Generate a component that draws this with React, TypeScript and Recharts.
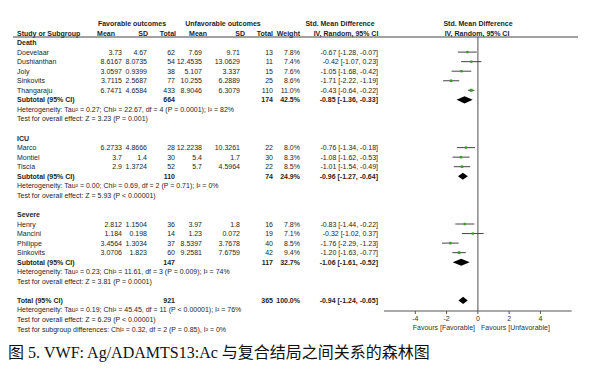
import React from 'react';
import { ScatterChart, Scatter, XAxis, YAxis, ErrorBar, ReferenceLine } from 'recharts';

// ---------- data ----------
const groupNames = ['Death', 'ICU', 'Severe'];
const studyGroup = [0, 0, 0, 0, 0, 1, 1, 1, 2, 2, 2, 2];
const studyNames = ['Doevelaar', 'Dushianthan', 'Joly', 'Sinkovits', 'Thangaraju', 'Marco', 'Montiel', 'Tiscia', 'Henry', 'Mancini', 'Philippe', 'Sinkovits'];
const favMean = [3.73, 8.6167, 3.0597, 3.7115, 6.7471, 6.2733, 3.7, 2.9, 2.812, 1.184, 3.4564, 3.0706];
const favSD = [4.67, 8.0735, 0.9399, 2.5687, 4.6584, 4.8666, 1.4, 1.3724, 1.1504, 0.198, 1.3034, 1.823];
const favN = [62, 54, 38, 77, 433, 28, 30, 52, 36, 14, 37, 60];
const unfMean = [7.69, 12.4535, 5.107, 10.255, 8.9046, 12.2238, 5.4, 5.7, 3.97, 1.23, 8.5397, 9.2581];
const unfSD = [9.71, 13.0629, 3.337, 6.2889, 6.3079, 10.3261, 1.7, 4.5964, 1.8, 0.072, 3.7678, 7.6759];
const unfN = [13, 11, 15, 25, 110, 22, 30, 22, 16, 19, 40, 42];
const weights = [7.8, 7.4, 7.6, 8.6, 11.0, 8.0, 8.3, 8.5, 7.8, 7.1, 8.5, 9.4];
const smd = [-0.67, -0.42, -1.05, -1.71, -0.43, -0.76, -1.08, -1.01, -0.83, -0.32, -1.76, -1.2];
const ciLow = [-1.28, -1.07, -1.68, -2.22, -0.64, -1.34, -1.62, -1.54, -1.44, -1.02, -2.29, -1.63];
const ciHigh = [-0.07, 0.23, -0.42, -1.19, -0.22, -0.18, -0.53, -0.49, -0.22, 0.37, -1.23, -0.77];

const subFavN = [664, 110, 147];
const subUnfN = [174, 74, 117];
const subWeight = [42.5, 24.9, 32.7];
const subSmd = [-0.85, -0.96, -1.06];
const subLow = [-1.36, -1.27, -1.61];
const subHigh = [-0.33, -0.64, -0.52];
const subHet = [
  'Heterogeneity: Tau² = 0.27; Chi² = 22.67, df = 4 (P = 0.0001); I² = 82%',
  'Heterogeneity: Tau² = 0.00; Chi² = 0.69, df = 2 (P = 0.71); I² = 0%',
  'Heterogeneity: Tau² = 0.23; Chi² = 11.61, df = 3 (P = 0.009); I² = 74%',
];
const subTest = [
  'Test for overall effect: Z = 3.23 (P = 0.001)',
  'Test for overall effect: Z = 5.93 (P < 0.00001)',
  'Test for overall effect: Z = 3.81 (P = 0.0001)',
];

const totalFavN = 921;
const totalUnfN = 365;
const totalWeight = 100.0;
const totalSmd = -0.94;
const totalLow = -1.24;
const totalHigh = -0.65;
const totalHet = 'Heterogeneity: Tau² = 0.19; Chi² = 45.45, df = 11 (P < 0.00001); I² = 76%';
const totalTest = 'Test for overall effect: Z = 6.29 (P < 0.00001)';
const subgroupTest = 'Test for subgroup differences: Chi² = 0.32, df = 2 (P = 0.85), I² = 0%';

const xTicks = [-4, -2, 0, 2, 4];
const xDomain: [number, number] = [-6, 6];
const caption = '图 5. VWF: Ag/ADAMTS13:Ac 与复合结局之间关系的森林图';

// ---------- layout ----------
const W = 600;
const H = 372;
const ROW0 = 33;
const STEP = 9.55;
const PLOT_TOP = 37;
const PLOT_BOTTOM = 311;
const PLOT_LEFT = 384;
const PLOT_RIGHT = 571.7;
const XAXIS_H = 20;
const DIAMOND_HALF = 0.37;
const rowY = (r: number) => ROW0 + STEP * r;
const yDomain: [number, number] = [(PLOT_TOP - ROW0) / STEP, (PLOT_BOTTOM - ROW0) / STEP];

const FONT = "'Liberation Sans', Arial, sans-serif";
const FS = 7;
const TXT = '#1e1e1e';

const COL = {
  name: 17,
  favMean: 122,
  favSD: 147,
  favN: 175,
  unfMean: 202,
  unfSD: 240,
  unfN: 273,
  weight: 300,
  ci: 378,
};

// row assignment
const groupRow: number[] = [];
const studyRow: number[] = [];
const subRow: number[] = [];
const hetRow: number[] = [];
const testRow: number[] = [];
let rr = 1;
groupNames.forEach((_, gi) => {
  groupRow[gi] = rr++;
  studyNames.forEach((__, si) => {
    if (studyGroup[si] === gi) studyRow[si] = rr++;
  });
  subRow[gi] = rr++;
  hetRow[gi] = rr++;
  testRow[gi] = rr++;
  rr++;
});
const totalRow = rr;

const fmtCI = (e: number, l: number, h: number) => `${e.toFixed(2)} [${l.toFixed(2)}, ${h.toFixed(2)}]`;

const studyData = studyNames.map((_, i) => ({
  x: smd[i],
  y: studyRow[i],
  err: [smd[i] - ciLow[i], ciHigh[i] - smd[i]],
  w: weights[i],
}));

const diamonds = [
  ...subSmd.map((e, gi) => ({ e, l: subLow[gi], h: subHigh[gi], r: subRow[gi] })),
  { e: totalSmd, l: totalLow, h: totalHigh, r: totalRow },
].map((d) => [
  { x: d.l, y: d.r },
  { x: d.e, y: d.r - DIAMOND_HALF },
  { x: d.h, y: d.r },
  { x: d.e, y: d.r + DIAMOND_HALF },
]);

const StudySquare = (props: any) => {
  const { cx, cy, payload } = props;
  const s = 1 + payload.w * 0.18;
  return <rect x={cx - s / 2} y={cy - s / 2} width={s} height={s} fill="#3a9a2a" />;
};

const renderDiamond = (props: any) => {
  const pts = (props.points || []).map((p: any) => `${p.x},${p.y}`).join(' ');
  return <polygon points={pts} fill="#000" stroke="none" />;
};

const T = ({ x, r, anchor = 'start', bold = false, children }: any) => (
  <text
    x={x}
    y={rowY(r)}
    textAnchor={anchor}
    dominantBaseline="central"
    fontWeight={bold ? 'bold' : 'normal'}
  >
    {children}
  </text>
);

export default function App() {
  return (
    <div style={{ position: 'absolute', left: 0, top: 0, width: W, height: H, background: '#fff' }}>
      <div style={{ position: 'absolute', left: 0, top: 0 }}>
        <ScatterChart
          width={W}
          height={H}
          margin={{ top: PLOT_TOP, right: W - PLOT_RIGHT, bottom: H - PLOT_BOTTOM - XAXIS_H, left: PLOT_LEFT }}
        >
          <XAxis
            type="number"
            dataKey="x"
            domain={xDomain}
            ticks={xTicks}
            interval={0}
            height={XAXIS_H}
            tickSize={3}
            axisLine={{ stroke: '#555', strokeWidth: 1 }}
            tickLine={{ stroke: '#555' }}
            tick={{ fontSize: FS, fill: '#333', fontFamily: FONT }}
          />
          <YAxis type="number" dataKey="y" domain={yDomain} reversed hide width={0} />
          <ReferenceLine x={0} stroke="#8a8a8a" strokeWidth={1.5} />
          <Scatter data={studyData} isAnimationActive={false} shape={StudySquare}>
            <ErrorBar dataKey="err" direction="x" width={0} stroke="#444" strokeWidth={1} />
          </Scatter>
          {diamonds.map((d, i) => (
            <Scatter
              key={i}
              data={d}
              isAnimationActive={false}
              line={renderDiamond}
              shape={() => <g />}
            />
          ))}
        </ScatterChart>
      </div>
      <svg
        width={W}
        height={H}
        style={{ position: 'absolute', left: 0, top: 0, pointerEvents: 'none' }}
        fontFamily={FONT}
        fontSize={FS}
        fill={TXT}
      >
        {/* header */}
        <text x={132} y={rowY(-1)} textAnchor="middle" dominantBaseline="central" fontWeight="bold">Favorable outcomes</text>
        <text x={223} y={rowY(-1)} textAnchor="middle" dominantBaseline="central" fontWeight="bold">Unfavorable outcomes</text>
        <text x={340} y={rowY(-1)} textAnchor="middle" dominantBaseline="central" fontWeight="bold">Std. Mean Difference</text>
        <text x={478} y={rowY(-1)} textAnchor="middle" dominantBaseline="central" fontWeight="bold">Std. Mean Difference</text>
        <T x={COL.name} r={0} bold>Study or Subgroup</T>
        <T x={115} r={0} anchor="end" bold>Mean</T>
        <T x={148} r={0} anchor="end" bold>SD</T>
        <T x={176} r={0} anchor="end" bold>Total</T>
        <T x={207} r={0} anchor="end" bold>Mean</T>
        <T x={245} r={0} anchor="end" bold>SD</T>
        <T x={273} r={0} anchor="end" bold>Total</T>
        <T x={300} r={0} anchor="end" bold>Weight</T>
        <T x={346} r={0} anchor="middle" bold>IV, Random, 95% CI</T>
        <T x={477} r={0} anchor="middle" bold>IV, Random, 95% CI</T>
        <line x1={13} x2={578} y1={PLOT_TOP} y2={PLOT_TOP} stroke="#444" strokeWidth={1} />

        {groupNames.map((g, gi) => (
          <g key={g}>
            <T x={COL.name} r={groupRow[gi]} bold>{g}</T>
            <T x={COL.name} r={subRow[gi]} bold>Subtotal (95% CI)</T>
            <T x={COL.favN} r={subRow[gi]} anchor="end" bold>{subFavN[gi]}</T>
            <T x={COL.unfN} r={subRow[gi]} anchor="end" bold>{subUnfN[gi]}</T>
            <T x={COL.weight} r={subRow[gi]} anchor="end" bold>{subWeight[gi].toFixed(1)}%</T>
            <T x={COL.ci} r={subRow[gi]} anchor="end" bold>{fmtCI(subSmd[gi], subLow[gi], subHigh[gi])}</T>
            <T x={COL.name} r={hetRow[gi]}>{subHet[gi]}</T>
            <T x={COL.name} r={testRow[gi]}>{subTest[gi]}</T>
          </g>
        ))}
        {studyNames.map((n, i) => (
          <g key={i}>
            <T x={COL.name} r={studyRow[i]}>{n}</T>
            <T x={COL.favMean} r={studyRow[i]} anchor="end">{String(favMean[i])}</T>
            <T x={COL.favSD} r={studyRow[i]} anchor="end">{String(favSD[i])}</T>
            <T x={COL.favN} r={studyRow[i]} anchor="end">{favN[i]}</T>
            <T x={COL.unfMean} r={studyRow[i]} anchor="end">{String(unfMean[i])}</T>
            <T x={COL.unfSD} r={studyRow[i]} anchor="end">{String(unfSD[i])}</T>
            <T x={COL.unfN} r={studyRow[i]} anchor="end">{unfN[i]}</T>
            <T x={COL.weight} r={studyRow[i]} anchor="end">{weights[i].toFixed(1)}%</T>
            <T x={COL.ci} r={studyRow[i]} anchor="end">{fmtCI(smd[i], ciLow[i], ciHigh[i])}</T>
          </g>
        ))}
        <T x={COL.name} r={totalRow} bold>Total (95% CI)</T>
        <T x={COL.favN} r={totalRow} anchor="end" bold>{totalFavN}</T>
        <T x={COL.unfN} r={totalRow} anchor="end" bold>{totalUnfN}</T>
        <T x={COL.weight} r={totalRow} anchor="end" bold>{totalWeight.toFixed(1)}%</T>
        <T x={COL.ci} r={totalRow} anchor="end" bold>{fmtCI(totalSmd, totalLow, totalHigh)}</T>
        <T x={COL.name} r={totalRow + 1}>{totalHet}</T>
        <T x={COL.name} r={totalRow + 2}>{totalTest}</T>
        <T x={COL.name} r={totalRow + 3}>{subgroupTest}</T>

        <text x={475} y={327} textAnchor="end" dominantBaseline="central" fill="#333">Favours [Favorable]</text>
        <text x={481} y={327} textAnchor="start" dominantBaseline="central" fill="#333">Favours [Unfavorable]</text>

        <text
          x={8}
          y={352}
          dominantBaseline="central"
          fontFamily="'Liberation Serif', 'Noto Sans CJK SC', serif"
          fontSize={16}
          fill="#111"
        >
          {caption}
        </text>
      </svg>
    </div>
  );
}
